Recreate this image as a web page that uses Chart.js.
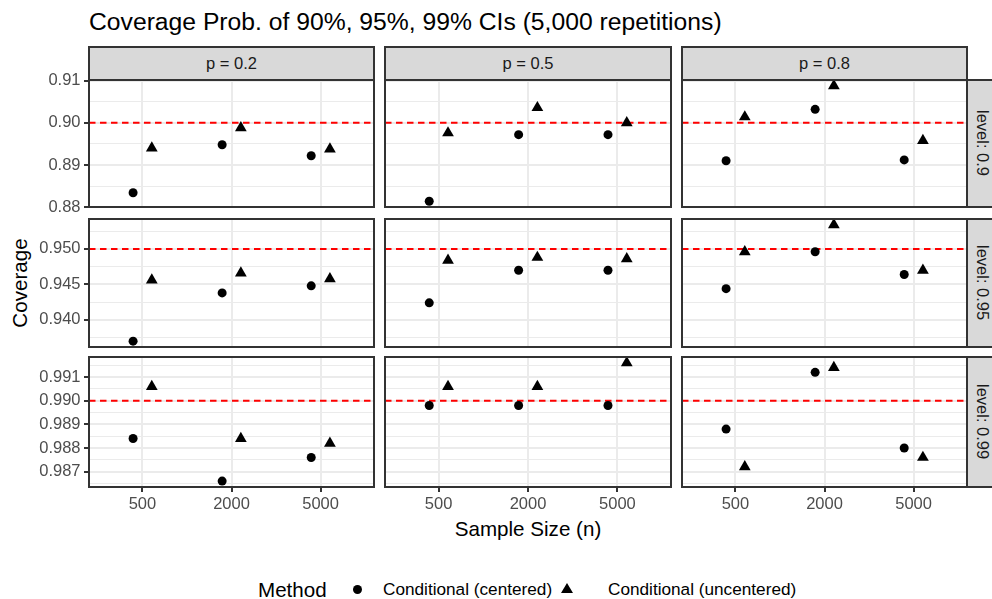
<!DOCTYPE html>
<html>
<head>
<meta charset="utf-8">
<script src="https://cdn.jsdelivr.net/npm/chart.js@4.4.1/dist/chart.umd.min.js"></script>
<style>
  body { margin: 0; background: #fff; }
  #fig { position: relative; width: 992px; height: 599px; overflow: hidden; background: #fff;
         font-family: "Liberation Sans", Arial, sans-serif; }
  .wrap { position: absolute; }
  .strip { position: absolute; box-sizing: border-box; background: #D9D9D9; border: 2px solid #333;
           color: #1A1A1A; font-size: 16.5px; display: flex; align-items: center; justify-content: center; }
  .strip.side span { writing-mode: vertical-rl; }
  .txt { position: absolute; white-space: nowrap; line-height: 1; }
  .c { transform: translate(-50%, -50%); }
</style>
</head>
<body>
<div id="fig">
  <div class="txt" style="left:89px; top:10px; font-size:24.7px; color:#000;">Coverage Prob. of 90%, 95%, 99% CIs (5,000 repetitions)</div>
  <div class="txt c" style="left:528px; top:529px; font-size:20.6px; color:#000;">Sample Size (n)</div>
  <div class="txt" style="left:20px; top:283px; font-size:20.6px; color:#000; transform: translate(-50%, -50%) rotate(-90deg);">Coverage</div>

  <div class="txt" style="left:258px; top:580px; font-size:20.6px; color:#000;">Method</div>
  <div style="position:absolute; left:352.5px; top:584.5px; width:9px; height:9px; border-radius:50%; background:#000;"></div>
  <div class="txt" style="left:383px; top:580.5px; font-size:17.2px; color:#000;">Conditional (centered)</div>
  <div style="position:absolute; left:561px; top:583px; width:0; height:0; border-left:6px solid transparent; border-right:6px solid transparent; border-bottom:10px solid #000;"></div>
  <div class="txt" style="left:608px; top:580.5px; font-size:17.2px; color:#000;">Conditional (uncentered)</div>
</div>

<script>
// x categories (sample size n), facet columns (p) and facet rows (level)
const sampleSizes = ["500", "2000", "5000"];
const pValues = ["0.2", "0.5", "0.8"];
const levelValues = [0.9, 0.95, 0.99];
const levelLabels = ["0.9", "0.95", "0.99"];

// coverage per row; inner lists: p = 0.2, 0.5, 0.8, each at n = 500, 2000, 5000
const centered90 = [[0.8834, 0.8948, 0.8922], [0.8814, 0.8972, 0.8972], [0.8910, 0.9032, 0.8912]];
const uncentered90 = [[0.8940, 0.8988, 0.8938], [0.8976, 0.9036, 0.9000], [0.9014, 0.9088, 0.8958]];
const centered95 = [[0.9370, 0.9438, 0.9448], [0.9424, 0.9470, 0.9470], [0.9444, 0.9496, 0.9464]];
const uncentered95 = [[0.9456, 0.9466, 0.9458], [0.9484, 0.9488, 0.9486], [0.9496, 0.9534, 0.9470]];
const centered99 = [[0.9884, 0.9866, 0.9876], [0.9898, 0.9898, 0.9898], [0.9888, 0.9912, 0.9880]];
const uncentered99 = [[0.9906, 0.9884, 0.9882], [0.9906, 0.9906, 0.9916], [0.9872, 0.9914, 0.9876]];

// y tick labels per row
const yTickLabels = [
  ["0.88", "0.89", "0.90", "0.91"],
  ["0.940", "0.945", "0.950"],
  ["0.987", "0.988", "0.989", "0.990", "0.991"]
];

const centeredRows = [centered90, centered95, centered99];
const uncenteredRows = [uncentered90, uncentered95, uncentered99];

// layout
const L = 80, T = 14, R = 3, B = 40;
const colX = [89, 385, 682], colW = [285, 286, 285];
const rowY = [80, 219, 357], rowH = [127, 128, 130];
const dodge = 0.105;

Chart.defaults.font.family = '"Liberation Sans", Arial, sans-serif';

const fig = document.getElementById("fig");

const panelBorder = {
  id: "panelBorder",
  afterDraw(chart) {
    const a = chart.chartArea, ctx = chart.ctx;
    ctx.save();
    ctx.strokeStyle = "#333333";
    ctx.lineWidth = 2;
    ctx.strokeRect(a.left, a.top, a.right - a.left, a.bottom - a.top);
    ctx.restore();
  }
};

// ggplot style limits: data range plus 5% each side
function rowLimits(r) {
  const all = centeredRows[r].flat().concat(uncenteredRows[r].flat(), [levelValues[r]]);
  const lo = Math.min(...all), hi = Math.max(...all);
  const pad = (hi - lo) * 0.05;
  return [lo - pad, hi + pad];
}

function yTicks(r, lo, hi) {
  const majors = yTickLabels[r].map(parseFloat);
  const step = majors[1] - majors[0];
  const ticks = majors.map((v, i) => ({ value: v, lbl: yTickLabels[r][i] }));
  for (let i = -1; i < majors.length; i++) {
    const m = (i < 0 ? majors[0] - step : majors[i]) + step / 2;
    if (m > lo && m < hi) ticks.push({ value: m, minor: true });
  }
  return ticks.sort((a, b) => a.value - b.value);
}

function makePanel(r, c) {
  const [lo, hi] = rowLimits(r);
  const w = colW[c] + L + R, h = rowH[r] + T + B;
  const wrap = document.createElement("div");
  wrap.className = "wrap";
  wrap.style.left = (colX[c] - L) + "px";
  wrap.style.top = (rowY[r] - T) + "px";
  const canvas = document.createElement("canvas");
  canvas.width = w;
  canvas.height = h;
  wrap.appendChild(canvas);
  fig.appendChild(wrap);

  const bottomRow = r === levelValues.length - 1;
  const leftCol = c === 0;

  new Chart(canvas, {
    type: "scatter",
    data: {
      datasets: [
        {
          type: "line",
          data: [{ x: 0.4, y: levelValues[r] }, { x: 3.6, y: levelValues[r] }],
          borderColor: "#FF0000",
          borderWidth: 2,
          borderDash: [6.5, 4.5],
          pointRadius: 0,
          order: 5
        },
        {
          data: sampleSizes.map((n, i) => ({ x: i + 1 - dodge, y: centeredRows[r][c][i] })),
          pointStyle: "circle",
          pointRadius: 4.5,
          backgroundColor: "#000",
          borderWidth: 0,
          order: 1
        },
        {
          data: sampleSizes.map((n, i) => ({ x: i + 1 + dodge, y: uncenteredRows[r][c][i] })),
          pointStyle: "triangle",
          pointRadius: 6.8,
          backgroundColor: "#000",
          borderWidth: 0,
          order: 0
        }
      ]
    },
    options: {
      responsive: false,
      animation: false,
      layout: { autoPadding: false, padding: { top: T, right: R, left: 0, bottom: 0 } },
      plugins: { legend: { display: false }, tooltip: { enabled: false } },
      scales: {
        x: {
          type: "linear",
          min: 0.4,
          max: 3.6,
          bounds: "data",
          afterBuildTicks: s => { s.ticks = sampleSizes.map((_, i) => ({ value: i + 1 })); },
          afterFit: s => { s.height = B; },
          border: { display: false },
          grid: { color: "#EBEBEB", lineWidth: 2, tickColor: bottomRow ? "#333333" : "rgba(0,0,0,0)", tickLength: 5, tickWidth: 2 },
          ticks: {
            display: bottomRow,
            autoSkip: false,
            maxRotation: 0,
            padding: 3,
            color: "#4D4D4D",
            font: { size: 16.5 },
            callback: v => sampleSizes[Math.round(v) - 1]
          }
        },
        y: {
          min: lo,
          max: hi,
          bounds: "data",
          afterBuildTicks: s => { s.ticks = yTicks(r, lo, hi); },
          afterFit: s => { s.width = L; },
          border: { display: false },
          grid: {
            color: "#EBEBEB",
            lineWidth: ctx => (ctx.tick && ctx.tick.minor ? 1 : 2),
            tickColor: ctx => (leftCol && ctx.tick && !ctx.tick.minor ? "#333333" : "rgba(0,0,0,0)"),
            tickLength: 5,
            tickWidth: 2
          },
          ticks: {
            display: leftCol,
            autoSkip: false,
            padding: 3.5,
            color: "#4D4D4D",
            font: { size: 16.5 },
            callback: (v, i, ticks) => ticks[i].lbl || ""
          }
        }
      }
    },
    plugins: [panelBorder]
  });
}

// top strips (p)
pValues.forEach((p, c) => {
  const s = document.createElement("div");
  s.className = "strip";
  s.style.left = (colX[c] - 1) + "px";
  s.style.top = "46px";
  s.style.width = (colW[c] + 2) + "px";
  s.style.height = "35px";
  s.textContent = "p = " + p;
  fig.appendChild(s);
});

// right strips (level)
levelLabels.forEach((lv, r) => {
  const s = document.createElement("div");
  s.className = "strip side";
  s.style.left = "966px";
  s.style.top = (rowY[r] - 1) + "px";
  s.style.width = "32px";
  s.style.height = (rowH[r] + 2) + "px";
  const sp = document.createElement("span");
  sp.textContent = "level: " + lv;
  s.appendChild(sp);
  fig.appendChild(s);
});

for (let r = 0; r < levelValues.length; r++) {
  for (let c = 0; c < pValues.length; c++) makePanel(r, c);
}
</script>
</body>
</html>
